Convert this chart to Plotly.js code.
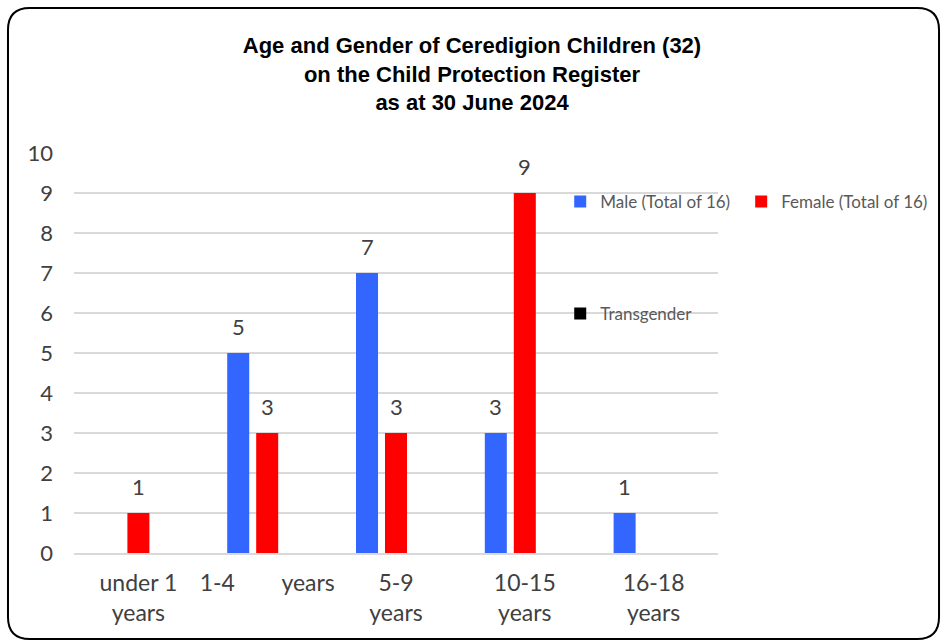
<!DOCTYPE html>
<html>
<head>
<meta charset="utf-8">
<script src="https://cdn.plot.ly/plotly-3.0.1.min.js"></script>
<style>
html,body{margin:0;padding:0;background:#fff;}
#chart{width:944px;height:641px;}
</style>
</head>
<body>
<div id="chart"></div>
<script>
const categories = ["under 1<br>years", "1-4\u00a0\u00a0\u00a0\u00a0\u00a0\u00a0\u00a0\u00a0years", "5-9<br>years", "10-15<br>years", "16-18<br>years"];
const maleValues = [0, 5, 7, 3, 1];
const femaleValues = [1, 3, 3, 9, 0];
const transValues = [0, 0, 0, 0, 0];
const seriesNames = ["Male (Total of 16)", "Female (Total of 16)", "Transgender"];
const seriesColors = ["#3366ff", "#ff0000", "#000000"];
const seriesValues = [maleValues, femaleValues, transValues];

const W = 944, H = 641;
const M = {l: 74, r: 226, t: 153, b: 88};
const bargap = 0.325;
const plotW = W - M.l - M.r;
const slotPx = plotW / categories.length * (1 - bargap) / seriesValues.length;

const fontFam = "Lato, 'Open Sans', sans-serif";
const labelFont = {family: fontFam, size: 22, color: "#404040"};

const legendIds = ["legend", "legend2", "legend3"];
const traces = seriesValues.map((vals, i) => ({
  type: "bar", name: seriesNames[i], x: categories, y: vals,
  marker: {color: seriesColors[i]}, legend: legendIds[i], hoverinfo: "y+name"
}));

// value labels above bars, positioned through the axes
const annotations = [];
seriesValues.forEach((vals, i) => {
  vals.forEach((v, j) => {
    if (v > 0) {
      annotations.push({
        x: categories[j], y: v, xref: "x", yref: "y",
        text: String(v), showarrow: false, font: labelFont,
        xanchor: "center", yanchor: "bottom",
        xshift: (i - (seriesValues.length - 1) / 2) * slotPx, yshift: 11
      });
    }
  });
});

// border geometry (paper coords)
const x0 = -0.1025, x1 = 1.3432, yt = 1.3625, yb = -0.215, rx = 0.034, ry = 0.055;
const borderPath = `M ${x0+rx},${yt} L ${x1-rx},${yt} Q ${x1},${yt} ${x1},${yt-ry} L ${x1},${yb+ry} Q ${x1},${yb} ${x1-rx},${yb} L ${x0+rx},${yb} Q ${x0},${yb} ${x0},${yb+ry} L ${x0},${yt-ry} Q ${x0},${yt} ${x0+rx},${yt} Z`;

const legFont = {family: fontFam, size: 17, color: "#595959"};
const legBase = {font: legFont, bgcolor: "rgba(0,0,0,0)", borderwidth: 0, xanchor: "left", yanchor: "middle", itemwidth: 30};

const layout = {
  width: W, height: H,
  margin: {l: M.l, r: M.r, t: M.t, b: M.b, pad: 0, autoexpand: false},
  paper_bgcolor: "#ffffff", plot_bgcolor: "#ffffff",
  title: {
    text: "<b>Age and Gender of Ceredigion Children (32)<br>on the Child Protection Register<br>as at 30 June 2024</b>",
    font: {family: "'Liberation Sans Narrow', 'Arial Narrow', 'Liberation Sans', Arial, sans-serif", size: 22, color: "#000000"},
    x: 0.5, xref: "container", xanchor: "center",
    y: 0.917, yref: "container", yanchor: "top"
  },
  barmode: "group",
  bargap: bargap,
  bargroupgap: 0.24,
  xaxis: {
    type: "category",
    tickfont: {family: fontFam, size: 23, color: "#404040"},
    showgrid: false, showline: true, linecolor: "#d9d9d9", linewidth: 2,
    ticks: "", ticklabelstandoff: 8, fixedrange: true
  },
  yaxis: {
    range: [0, 10], dtick: 1, tick0: 0,
    tickfont: {family: fontFam, size: 22, color: "#404040"},
    showgrid: true, gridcolor: "#d9d9d9", gridwidth: 2,
    zeroline: false, showline: false, ticks: "", ticklabelstandoff: 20, fixedrange: true
  },
  showlegend: true,
  legend: Object.assign({}, legBase, {x: 0.755, y: 0.8775}),
  legend2: Object.assign({}, legBase, {x: 1.036, y: 0.8775}),
  legend3: Object.assign({}, legBase, {x: 0.755, y: 0.5975}),
  annotations: annotations,
  shapes: [{type: "path", xref: "paper", yref: "paper", path: borderPath, line: {color: "#000000", width: 2}, fillcolor: "rgba(0,0,0,0)", layer: "above"}]
};

Plotly.newPlot("chart", traces, layout, {displayModeBar: false, staticPlot: true});
</script>
</body>
</html>
